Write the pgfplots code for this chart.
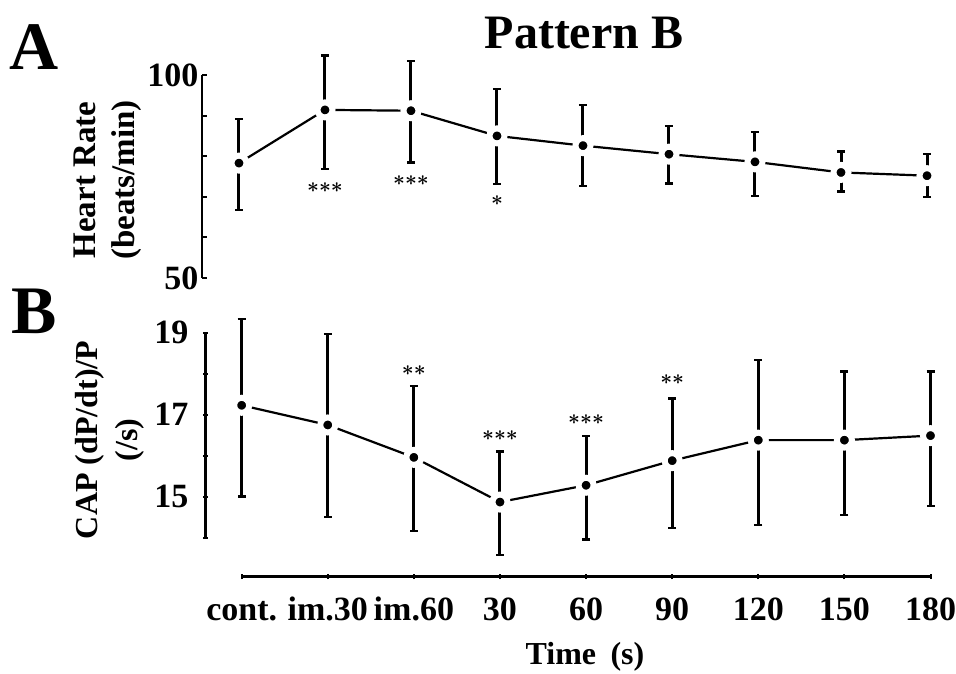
\documentclass[border=0pt]{standalone}
\usepackage{fontspec}
\setmainfont{Liberation Serif}
\usepackage{pgfplots}
\usepackage{pgfplotstable}
\pgfplotsset{compat=1.18}

\pgfplotstableread{
x y ep em
0 78.3 10.8 11.6
1 91.4 13.35 14.6
2 91.2 12.2 12.7
3 85.0 11.5 11.8
4 82.6 10.0 9.9
5 80.5 6.9 7.2
6 78.6 7.4 8.4
7 76.0 5.1 4.7
8 75.2 5.3 5.2
}\hr

\pgfplotstableread{
x y ep em
0 17.23 2.10 2.23
1 16.75 2.22 2.25
2 15.96 1.74 1.79
3 14.87 1.23 1.29
4 15.28 1.20 1.32
5 15.88 1.51 1.64
6 16.38 1.95 2.07
7 16.38 1.67 1.83
8 16.49 1.56 1.72
}\cap

\pgfplotsset{
  mystyle/.style={
    scale only axis, clip=false,
    /pgf/number format/assume math mode=true,
    tick align=inside, major tick length=5pt,
    tick style={line width=2pt, black},
    ticklabel style={font=\bfseries\fontsize{34}{34}\selectfont},
  },
  errplot/.style={
    draw=none, mark=none, forget plot,
    error bars/.cd, y dir=both, y explicit,
    error bar style={draw=black, line width=3pt},
    error mark options={rotate=90, draw=black, line width=2.5pt, mark size=4pt},
  },
  lineplot/.style={
    black, line width=2.2pt, mark=*, mark size=7.5pt,
    mark options={fill=black, draw=white, line width=6pt},
  },
}
\tikzset{stars/.style={font=\fontsize{20}{20}\selectfont\boldmath, inner sep=0pt}}

\begin{document}
\begin{tikzpicture}[x=1pt,y=1pt]
\useasboundingbox (0,0) rectangle (956,674);

\begin{axis}[mystyle,
  at={(202pt,396pt)}, anchor=south west,
  width=733.6pt, height=203pt,
  xmin=-0.43, xmax=8.1, ymin=50, ymax=100,
  hide x axis,
  axis y line*=left,
  y axis line style={-, line width=2.5pt},
  ytick={50,60,70,80,90,100},
  yticklabels={50,,,,,100},
]
\addplot[errplot] table[x=x, y=y, y error plus=ep, y error minus=em]{\hr};
\addplot[lineplot] table[x=x, y=y]{\hr};
\node[stars] at (axis cs:1,72.2) {${\ast}{\ast}{\ast}$};
\node[stars] at (axis cs:2,73.9) {${\ast}{\ast}{\ast}$};
\node[stars] at (axis cs:3,69.0) {${\ast}$};
\end{axis}

\begin{axis}[mystyle,
  at={(205.5pt,97.3pt)}, anchor=south west,
  width=733.6pt, height=244pt,
  xmin=-0.42, xmax=8.1, ymin=13.05, ymax=19,
  axis lines=left,
  axis line style={draw=none, -},
  xtick={0,1,2,3,4,5,6,7,8},
  xticklabels={cont.,im.30,im.60,30,60,90,120,150,180},
  xticklabel style={anchor=base, yshift=-41pt},
  ytick={14,15,16,17,18,19},
  yticklabels={,15,,17,,19},
  yticklabel style={xshift=-11pt},
]
\draw[line width=2.5pt] (axis cs:-0.42,14) -- (axis cs:-0.42,19);
\draw[line width=2.5pt] (axis cs:0,13.05) -- (axis cs:8,13.05);
\addplot[errplot] table[x=x, y=y, y error plus=ep, y error minus=em]{\cap};
\addplot[lineplot] table[x=x, y=y]{\cap};
\node[stars] at (axis cs:2,18.07) {${\ast}{\ast}$};
\node[stars] at (axis cs:3,16.50) {${\ast}{\ast}{\ast}$};
\node[stars] at (axis cs:4,16.87) {${\ast}{\ast}{\ast}$};
\node[stars] at (axis cs:5,17.85) {${\ast}{\ast}$};
\end{axis}

\node[font=\bfseries\fontsize{48}{48}\selectfont] at (584,640.5) {Pattern B};
\node[font=\bfseries\fontsize{68}{68}\selectfont] at (34,627) {A};
\node[font=\bfseries\fontsize{68}{68}\selectfont] at (34,363) {B};
\node[rotate=90, align=center, font=\bfseries\fontsize{33}{39}\selectfont] at (107.5,494) {Heart Rate\\(beats/min)};
\node[rotate=90, align=center, font=\bfseries\fontsize{32}{40}\selectfont] at (110,234) {CAP (dP/dt)/P\\(/s)};
\node[font=\bfseries\fontsize{32}{32}\selectfont] at (585,17) {Time\hspace{0.45em}(s)};
\end{tikzpicture}
\end{document}
